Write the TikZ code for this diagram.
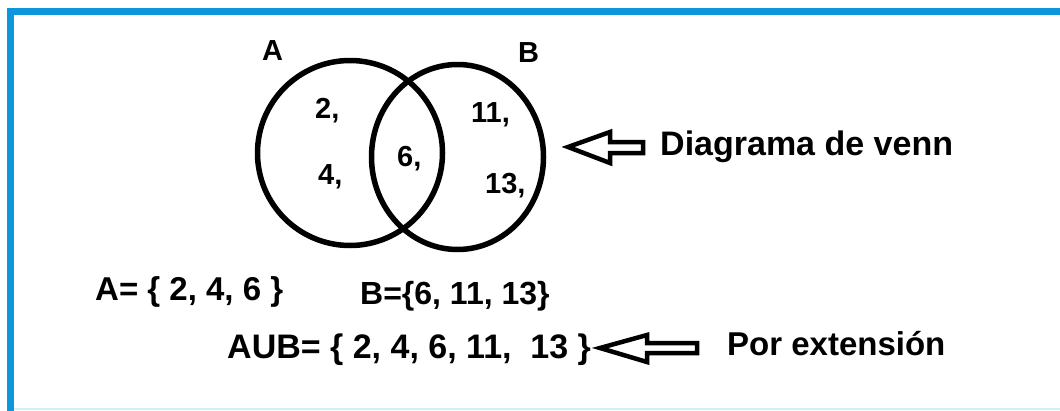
\documentclass[tikz,border=0pt]{standalone}
\usepackage{fontspec}
\setmainfont{Liberation Sans}
\begin{document}
\begin{tikzpicture}[x=1pt,y=-1pt,
  lbl/.style={inner sep=0pt,anchor=base west,font=\bfseries\fontsize{#1}{#1}\selectfont},
  venn/.style={line width=5.5pt,draw=black},
  blockarrow/.style={line width=4.5pt,draw=black,line join=miter,fill=white},
  framecol/.style={line width=7pt,draw=frameblue}]
\definecolor{frameblue}{RGB}{13,150,220}
\definecolor{framelight}{RGB}{205,242,255}
\useasboundingbox (0,0) rectangle (1060,410);
% frame
\coordinate (ftl) at (10.5,11.5);
\coordinate (ftr) at (1060,11.5);
\coordinate (fbl) at (10.5,410);
\coordinate (fbr) at (1060,408.5);
\draw[line width=2pt,draw=framelight] (10.5,408.5) -- (fbr);
\draw[framecol,line cap=rect] (ftr) -- (ftl) -- (fbl);
% circles
\draw[venn] (350,153) circle [radius=92.5];
\draw[venn] (457.5,157) ellipse [x radius=86,y radius=92.5];
% set labels
\node[lbl=29] (la) at (262,60) {A};
\node[lbl=29] (lb) at (518,62) {B};
% elements
\node[lbl=29] (e2) at (315,118) {2,};
\node[lbl=29] (e4) at (318,184) {4,};
\node[lbl=29] (e6) at (397,166) {6,};
\node[lbl=29] (e11) at (471,122) {11,};
\node[lbl=29] (e13) at (485,193) {13,};
% right labels
\node[lbl=34] (venn) at (660,155) {Diagrama de venn};
\node[lbl=33] (ext) at (727,355) {Por extensión};
% set notation
\node[lbl=33] (seta) at (95,300) {A= \{ 2, 4, 6 \}};
\node[lbl=32] (setb) at (360,304) {B=\{6, 11, 13\}};
\node[lbl=34] (union) at (227,358) {AUB= \{ 2, 4, 6, 11,\ \ 13 \}};
% block arrows
\draw[blockarrow] (568,147) -- (610,132) -- (610,142) -- (643,142) -- (643,153) -- (610,153) -- (610,163) -- cycle;
\draw[blockarrow] (600,348) -- (647,335) -- (647,343) -- (697,343) -- (697,353) -- (647,353) -- (647,362) -- cycle;
\end{tikzpicture}
\end{document}
